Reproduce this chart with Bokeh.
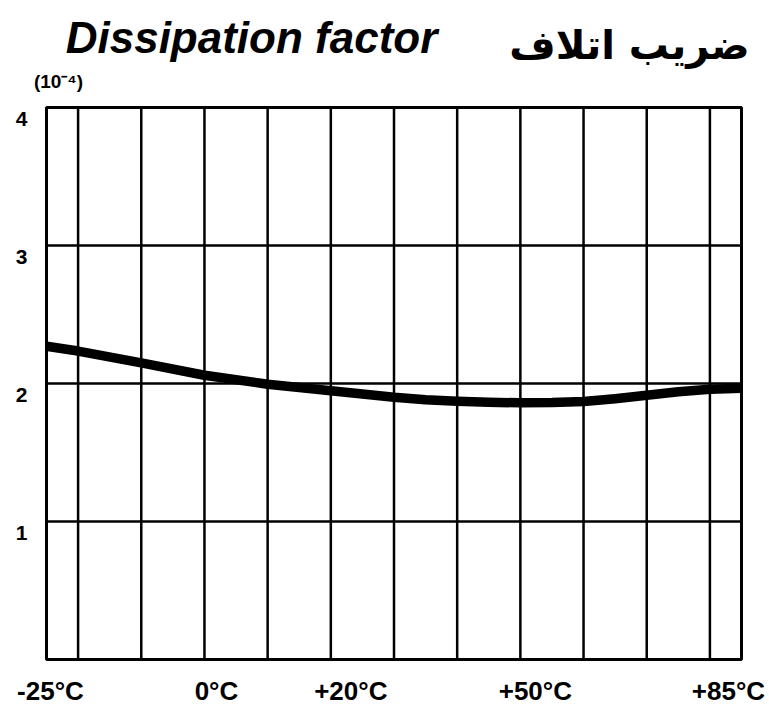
from bokeh.plotting import figure
from bokeh.models import Range1d
from bokeh.core.properties import value
from bokeh.embed import file_html
from bokeh.resources import INLINE

# ---------------- data ----------------
temps_c = [-25, -20, -10, 0, 10, 20, 30, 35, 40, 45, 50, 55, 60, 65, 70, 75, 80, 85]
dissipation_e4 = [2.27, 2.235, 2.15, 2.06, 1.995, 1.947, 1.90, 1.882, 1.872, 1.864, 1.86,
                  1.862, 1.87, 1.89, 1.915, 1.94, 1.958, 1.965]

x_tick_values = [-25, 0, 20, 50, 85]
x_tick_labels = ["-25°C", "0°C", "+20°C", "+50°C", "+85°C"]
x_grid_values = [-20, -10, 0, 10, 20, 30, 40, 50, 60, 70, 80]
y_tick_values = [1, 2, 3, 4]
y_tick_labels = ["1", "2", "3", "4"]
y_grid_values = [1, 2, 3]

title_en = "Dissipation factor"
title_fa = "ضریب اتلاف"
unit_text = "(10⁻⁴)"

# ---------------- layout (pixels) ----------------
W, H = 769, 715
PL, PR, PT, PB = 46, 741, 107, 659          # plot-box edges on the canvas
X_MIN, X_MAX, Y_MIN, Y_MAX = -25, 85, 0, 4  # value extents of the plot box
x_label_nudge = [4, 12, 20, 15, -13]        # label placement as printed in the original

sx = (PR - PL) / (X_MAX - X_MIN)
sy = (PB - PT) / (Y_MAX - Y_MIN)
x_range = Range1d(X_MIN - PL / sx, X_MAX + (W - PR) / sx)
y_range = Range1d(Y_MIN - (H - PB) / sy, Y_MAX + PT / sy)

p = figure(width=W, height=H, output_backend="svg", toolbar_location=None,
           x_range=x_range, y_range=y_range,
           min_border=0, min_border_left=0, min_border_right=0,
           min_border_top=0, min_border_bottom=0)
p.axis.visible = False
p.grid.visible = False
p.outline_line_color = None
p.background_fill_color = "white"
p.border_fill_color = "white"

# grid lines
n_x = len(x_grid_values)
p.segment(x0=x_grid_values, y0=[Y_MIN] * n_x, x1=x_grid_values, y1=[Y_MAX] * n_x,
          line_color="black", line_width=2.5)
n_y = len(y_grid_values)
p.segment(x0=[X_MIN] * n_y, y0=y_grid_values, x1=[X_MAX] * n_y, y1=y_grid_values,
          line_color="black", line_width=2.5)

# plot box outline
p.quad(left=[X_MIN], right=[X_MAX], bottom=[Y_MIN], top=[Y_MAX],
       fill_color=None, line_color="black", line_width=3)

# the curve
p.line(temps_c, dissipation_e4, line_color="black", line_width=9.5, line_cap="butt",
       line_join="round")

# x tick labels
p.text(x=x_tick_values, y=[Y_MIN] * len(x_tick_values), text=x_tick_labels,
       x_offset=x_label_nudge, y_offset=31, text_align="center", text_baseline="middle",
       text_font=value("Liberation Sans"), text_font_style="bold",
       text_font_size="26px", text_color="black")

# y tick labels (sit a little below their lines)
p.text(x=[X_MIN] * len(y_tick_values), y=y_tick_values, text=y_tick_labels,
       x_offset=-19, y_offset=11, text_align="right", text_baseline="middle",
       text_font=value("Liberation Sans"), text_font_style="bold",
       text_font_size="21px", text_color="black")

# titles
p.text(x=[X_MIN], y=[Y_MAX], text=[title_en], x_offset=205, y_offset=-70,
       text_align="center", text_baseline="alphabetic",
       text_font=value("Liberation Sans"), text_font_style="bold italic",
       text_font_size="44px", text_color="black")
p.text(x=[X_MIN], y=[Y_MAX], text=[title_fa], x_offset=583, y_offset=-63,
       text_align="center", text_baseline="alphabetic",
       text_font=value("DejaVu Sans"), text_font_style="bold",
       text_font_size="40px", text_color="black")
p.text(x=[X_MIN], y=[Y_MAX], text=[unit_text], x_offset=12, y_offset=-26,
       text_align="center", text_baseline="middle",
       text_font=value("Liberation Sans"), text_font_style="bold",
       text_font_size="19px", text_color="black")

open("out.html", "w").write(file_html(p, INLINE))
